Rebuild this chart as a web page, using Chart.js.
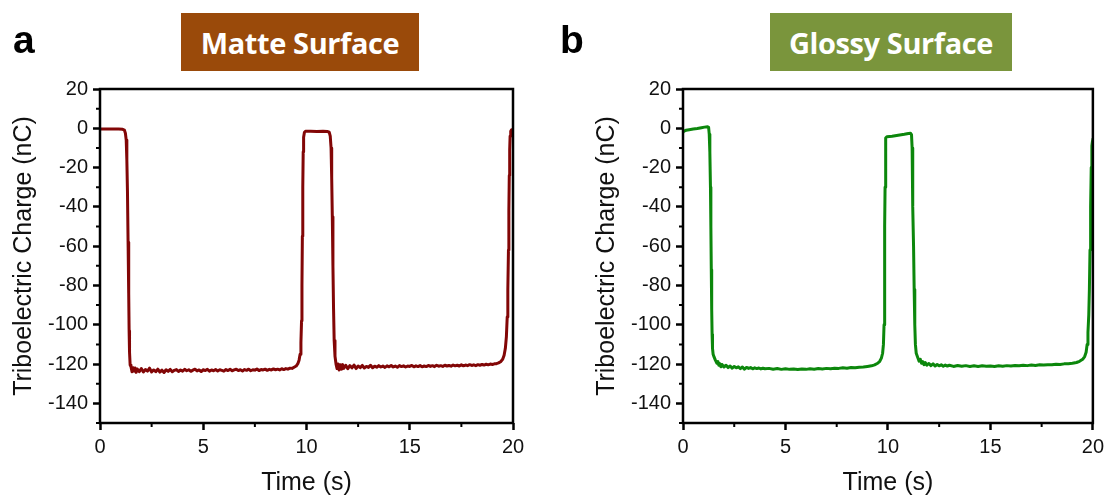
<!DOCTYPE html>
<html>
<head>
<meta charset="utf-8">
<script src="https://cdn.jsdelivr.net/npm/chart.js@4"></script>
<style>
  html, body { margin: 0; padding: 0; background: #fff; }
  body { width: 1109px; height: 499px; position: relative; overflow: hidden; }
  .panel { position: absolute; top: 0; height: 499px; }
  .panel canvas { display: block; }
  .tag {
    position: absolute; font-family: "Liberation Sans", Arial, sans-serif;
    font-weight: bold; font-size: 39px; line-height: 1; color: #000;
  }
  .banner {
    position: absolute; top: 13px; height: 58px; color: #fff;
    font-family: "Open Sans", "Lato", sans-serif; font-weight: 700; font-size: 29px;
    display: flex; align-items: center; justify-content: center; letter-spacing: -0.4px;
  }
</style>
</head>
<body>
<div class="panel" id="pa" style="left:0;width:554px;"><canvas id="ca"></canvas></div>
<div class="panel" id="pb" style="left:583px;width:526px;"><canvas id="cb"></canvas></div>
<div class="tag" style="left:13px;top:20px;">a</div>
<div class="tag" style="left:560px;top:20px;">b</div>
<div class="banner" style="left:181px;width:238px;background:#9a4a0a;">Matte Surface</div>
<div class="banner" style="left:770px;width:242px;background:#7a953c;">Glossy Surface</div>

<script>
// Axis ticks
const timeTicks = [0, 5, 10, 15, 20];
const timeMinorTicks = [2.5, 7.5, 12.5, 17.5];
const chargeTicks = [20, 0, -20, -40, -60, -80, -100, -120, -140];
const chargeMinorTicks = [10, -10, -30, -50, -70, -90, -110, -130, -150];

// Matte surface trace: time (s) and charge (nC)
const matteTime = [
  0, 0.3, 0.6, 0.9, 1.1, 1.18, 1.23, 1.27, 1.3, 1.33, 1.36, 1.39, 1.41, 1.43, 1.46,
  1.5, 1.55, 1.6, 1.65, 1.7, 1.75, 1.8, 1.9, 2.0, 2.1, 2.2, 2.3, 2.4, 2.5, 2.6, 2.7, 2.8, 2.9,
  3.0, 3.1, 3.2, 3.3, 3.4, 3.5, 3.6, 3.7, 3.8, 3.9, 4.0, 4.1, 4.2, 4.3, 4.4, 4.5, 4.6, 4.7, 4.8, 4.9,
  5.0, 5.1, 5.2, 5.3, 5.4, 5.5, 5.6, 5.7, 5.8, 5.9, 6.0, 6.1, 6.2, 6.3, 6.4, 6.5, 6.6, 6.7, 6.8, 6.9,
  7.0, 7.1, 7.2, 7.3, 7.4, 7.5, 7.6, 7.7, 7.8, 7.9, 8.0, 8.1, 8.2, 8.3, 8.4, 8.5, 8.6, 8.7, 8.8, 8.9,
  9.0, 9.1, 9.2, 9.3, 9.4, 9.5, 9.58, 9.64, 9.69, 9.73, 9.76, 9.78, 9.8, 9.82, 9.84, 9.86, 9.9, 9.95,
  10.2, 10.5, 10.8, 11.0, 11.1, 11.15, 11.19, 11.22, 11.25, 11.28, 11.31, 11.34, 11.38, 11.43,
  11.48, 11.53, 11.58, 11.63, 11.7, 11.75, 11.8, 11.9, 12.0, 12.1, 12.2, 12.3, 12.4, 12.5, 12.6, 12.7, 12.8, 12.9,
  13.0, 13.1, 13.2, 13.3, 13.4, 13.5, 13.6, 13.7, 13.8, 13.9, 14.0, 14.1, 14.2, 14.3, 14.4, 14.5, 14.6, 14.7, 14.8, 14.9,
  15.0, 15.1, 15.2, 15.3, 15.4, 15.5, 15.6, 15.7, 15.8, 15.9, 16.0, 16.1, 16.2, 16.3, 16.4, 16.5, 16.6, 16.7, 16.8, 16.9,
  17.0, 17.1, 17.2, 17.3, 17.4, 17.5, 17.6, 17.7, 17.8, 17.9, 18.0, 18.1, 18.2, 18.3, 18.4, 18.5, 18.6, 18.7, 18.8, 18.9,
  19.0, 19.1, 19.2, 19.3, 19.4, 19.5, 19.57, 19.63, 19.68, 19.72, 19.75, 19.78, 19.8, 19.82, 19.84, 19.86, 19.89, 19.93, 20.0
];
const matteCharge = [
  -0.3, -0.4, -0.3, -0.4, -0.5, -0.9, -2.5, -6, -16, -32, -58, -84, -103, -114, -120.5,
  -121.3, -123.9, -121.9, -123.6, -122.0, -124.2, -122.5, -123.9, -122.3, -124.0, -122.8, -123.6, -122.1, -124.0, -123.0, -123.9, -122.6, -124.1,
  -123.1, -124.3, -122.9, -123.7, -122.7, -123.9, -123.2, -122.8, -123.8, -123.0, -123.6, -122.7, -123.4, -122.9, -123.7, -123.1, -122.6, -123.5, -123.0, -123.8,
  -122.9, -123.3, -122.7, -123.6, -123.0, -123.4, -122.8, -123.5, -122.9, -123.2, -123.6, -122.8, -123.3, -122.7, -123.4, -123.0, -122.6, -123.3, -122.9, -123.5,
  -122.8, -123.2, -122.6, -123.4, -122.9, -123.1, -122.5, -123.3, -122.8, -123.0, -122.6, -123.2, -122.7, -123.0, -122.5, -122.9, -122.6, -123.0, -122.4, -122.8,
  -122.3, -122.6, -122.1, -122.2, -121.6, -121.0, -119.8, -118.0, -115.0, -109.0, -98, -80, -55, -30, -12, -4.5, -2, -1.5,
  -1.5, -1.6, -1.5, -1.6, -2.0, -4, -10, -25, -45, -70, -92, -108, -116, -120,
  -122.3, -120.0, -123.0, -120.4, -122.6, -120.3, -122.2, -120.6, -122.4, -120.8, -121.9, -120.5, -122.3, -121.0, -121.8, -120.7, -122.0, -121.2,
  -121.7, -120.6, -121.9, -121.1, -121.6, -120.8, -121.5, -121.0, -121.7, -120.9, -121.4, -120.7, -121.5, -121.0, -121.6, -120.8, -121.3, -120.9, -121.5, -121.0,
  -121.2, -120.7, -121.4, -120.9, -121.3, -120.8, -121.4, -121.0, -121.3, -120.7, -121.2, -120.8, -121.3, -120.6, -121.1, -120.8, -121.2, -120.6, -121.0, -120.7,
  -121.1, -120.5, -120.9, -120.6, -121.0, -120.4, -120.9, -120.5, -120.8, -120.3, -120.7, -120.4, -120.8, -120.3, -120.6, -120.2, -120.5, -120.1, -120.4, -120.0,
  -120.2, -119.9, -119.8, -119.4, -118.8, -117.6, -115.5, -112, -106, -96, -82, -62, -42, -24, -11, -4, -1.5, -0.8, -0.8
];

// Glossy surface trace: time (s) and charge (nC)
const glossyTime = [
  0, 0.05, 0.15, 0.3, 0.5, 0.7, 0.9, 1.05, 1.2, 1.25, 1.28, 1.31, 1.34, 1.36, 1.38, 1.4, 1.42, 1.44, 1.47,
  1.52, 1.58, 1.65, 1.7, 1.75, 1.8, 1.85, 1.9, 2.0, 2.1, 2.2, 2.3, 2.4, 2.5, 2.6, 2.7, 2.8, 2.9,
  3.0, 3.1, 3.2, 3.3, 3.4, 3.5, 3.6, 3.7, 3.8, 3.9, 4.0, 4.2, 4.4, 4.6, 4.8, 5.0, 5.2, 5.4, 5.6, 5.8,
  6.0, 6.2, 6.4, 6.6, 6.8, 7.0, 7.2, 7.4, 7.6, 7.8, 8.0, 8.2, 8.4, 8.6, 8.8, 9.0, 9.2, 9.35, 9.5,
  9.6, 9.68, 9.74, 9.78, 9.81, 9.83, 9.85, 9.86, 9.88, 9.9, 9.95, 10.2, 10.5, 10.8, 11.0, 11.1,
  11.15, 11.18, 11.2, 11.22, 11.25, 11.28, 11.31, 11.34, 11.38, 11.45, 11.52, 11.58, 11.64, 11.7, 11.76, 11.82, 11.9,
  12.0, 12.1, 12.2, 12.3, 12.4, 12.5, 12.6, 12.7, 12.8, 12.9, 13.0, 13.2, 13.4, 13.6, 13.8, 14.0, 14.2, 14.4, 14.6, 14.8,
  15.0, 15.2, 15.4, 15.6, 15.8, 16.0, 16.2, 16.4, 16.6, 16.8, 17.0, 17.2, 17.4, 17.6, 17.8, 18.0, 18.2, 18.4, 18.6, 18.8,
  19.0, 19.2, 19.35, 19.5, 19.6, 19.67, 19.72, 19.76, 19.8, 19.83, 19.86, 19.89, 19.92, 19.95, 19.98, 20.0
];
const glossyCharge = [
  -2.0, -1.4, -1.0, -0.7, -0.4, -0.1, 0.3, 0.6, 0.8, 0.5, -3, -12, -30, -50, -72, -92, -105, -112, -115,
  -116.5, -118, -119.5, -118.7, -120.6, -119.8, -121.4, -120.2, -121.5, -120.6, -121.8, -121.0, -122.1, -121.2, -121.9, -121.4, -122.3, -121.5,
  -122.6, -121.7, -122.2, -121.8, -122.4, -121.9, -122.3, -122.0, -122.5, -122.1, -122.4, -122.2, -122.6, -122.3, -122.7, -122.4, -122.7, -122.5, -122.8, -122.5,
  -122.7, -122.4, -122.6, -122.3, -122.5, -122.2, -122.4, -122.1, -122.2, -121.9, -122.1, -121.8, -121.9, -121.6, -121.5, -121.2, -120.9, -120.4, -119.6,
  -118.6, -117.0, -114.5, -110, -100, -80, -50, -30, -12, -5, -4.3, -4.0, -3.5, -3.0, -2.6, -2.5,
  -3.2, -10, -25, -40, -60, -82, -100, -110, -114.5, -116.5, -118.5, -117.6, -119.6, -118.8, -120.3, -119.2, -120.6,
  -119.7, -120.8, -119.9, -121.0, -120.2, -120.9, -120.4, -121.1, -120.5, -121.0, -120.6, -121.2, -120.7, -121.1, -120.8, -121.2, -120.9, -121.2, -120.9, -121.1,
  -121.0, -121.2, -120.9, -121.1, -120.8, -121.0, -120.7, -120.9, -120.6, -120.8, -120.5, -120.7, -120.4, -120.5, -120.3, -120.4, -120.1, -120.2, -119.9, -119.8,
  -119.6, -119.2, -118.6, -117.6, -116.2, -114, -110, -104, -95, -82, -62, -40, -20, -9, -6.5, -5.5
];

const AREA = { left: 100, right: 513, top: 89, bottom: 423 };
const TICK_FONT = { family: '"Liberation Sans", Arial, sans-serif', size: 20 };
const TITLE_FONT = { family: '"Liberation Sans", Arial, sans-serif', size: 25 };

// Frame around the plot area plus short minor ticks on both axes
const framePlugin = {
  id: 'frame',
  afterDraw(chart) {
    const { ctx, chartArea: a, scales } = chart;
    ctx.save();
    ctx.strokeStyle = '#000';
    ctx.lineWidth = 2.5;
    ctx.strokeRect(a.left, a.top, a.right - a.left, a.bottom - a.top);
    ctx.lineWidth = 2;
    ctx.beginPath();
    timeMinorTicks.forEach(v => {
      const x = scales.x.getPixelForValue(v);
      ctx.moveTo(x, a.bottom);
      ctx.lineTo(x, a.bottom + 4);
    });
    chargeMinorTicks.forEach(v => {
      const y = scales.y.getPixelForValue(v);
      ctx.moveTo(a.left, y);
      ctx.lineTo(a.left - 4, y);
    });
    ctx.stroke();
    ctx.restore();
  }
};

function makeChart(canvasId, width, times, charges, color) {
  const canvas = document.getElementById(canvasId);
  canvas.width = width;
  canvas.height = 499;
  canvas.style.width = width + 'px';
  canvas.style.height = '499px';
  return new Chart(canvas, {
    type: 'line',
    data: {
      datasets: [{
        data: times.map((t, i) => ({ x: t, y: charges[i] })),
        borderColor: color,
        borderWidth: 3,
        borderJoinStyle: 'round',
        borderCapStyle: 'round',
        pointRadius: 0,
        tension: 0,
        fill: false
      }]
    },
    options: {
      responsive: false,
      animation: false,
      layout: { padding: { left: 0, top: AREA.top, right: width - AREA.right, bottom: 0 } },
      plugins: { legend: { display: false }, tooltip: { enabled: false } },
      scales: {
        x: {
          type: 'linear', min: 0, max: 20,
          afterFit: s => { s.height = 499 - AREA.bottom; },
          afterBuildTicks: s => { s.ticks = timeTicks.map(v => ({ value: v })); },
          ticks: { font: TICK_FONT, color: '#111', padding: 5, maxRotation: 0 },
          grid: { display: true, drawOnChartArea: false, drawTicks: true, tickLength: 7, tickWidth: 2.5, tickColor: '#000' },
          border: { display: false },
          title: { display: true, text: 'Time (s)', font: TITLE_FONT, color: '#111', padding: { top: 0, bottom: 1 } }
        },
        y: {
          type: 'linear', min: -150, max: 20,
          afterFit: s => { s.width = AREA.left; },
          afterBuildTicks: s => { s.ticks = chargeTicks.map(v => ({ value: v })); },
          ticks: { font: TICK_FONT, color: '#111', padding: 5 },
          grid: { display: true, drawOnChartArea: false, drawTicks: true, tickLength: 7, tickWidth: 2.5, tickColor: '#000' },
          border: { display: false },
          title: { display: true, text: 'Triboelectric Charge (nC)', font: TITLE_FONT, color: '#111', padding: { top: 9, bottom: 0 } }
        }
      }
    },
    plugins: [framePlugin]
  });
}

makeChart('ca', 554, matteTime, matteCharge, '#820606');
makeChart('cb', 526, glossyTime, glossyCharge, '#0c870c');
</script>
</body>
</html>
